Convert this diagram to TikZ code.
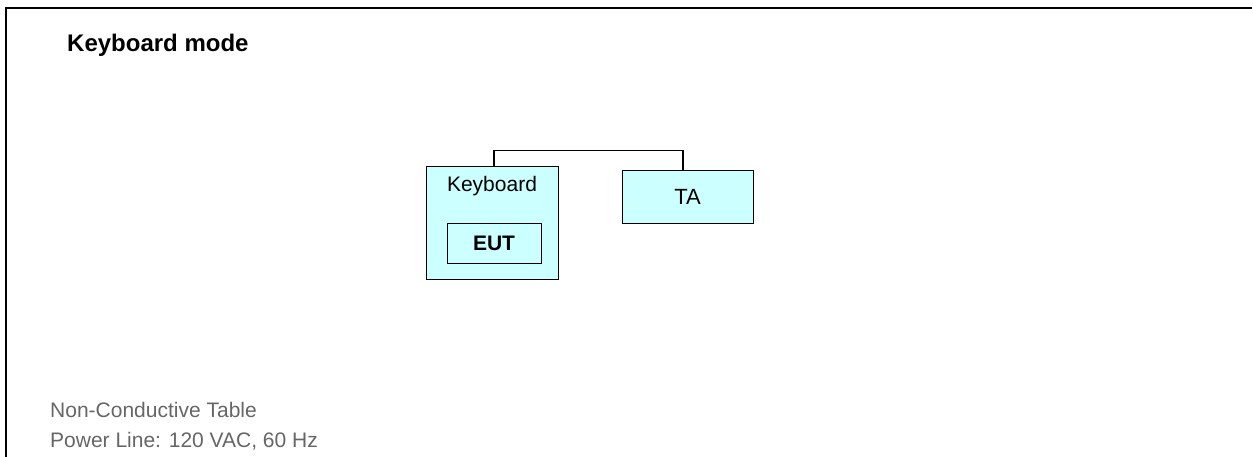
\documentclass[tikz,border=0pt]{standalone}
\usepackage{fontspec}
\setmainfont{Liberation Sans}
\definecolor{boxfill}{HTML}{CCFFFF}
\definecolor{notegray}{HTML}{666666}
\begin{document}
\begin{tikzpicture}[x=1pt,y=-1pt,
  unitbox/.style={draw=black,line width=1pt,fill=boxfill,inner sep=0pt},
  txt/.style={inner sep=0pt,font=\fontsize{21}{25}\selectfont},
  note/.style={txt,anchor=west,text=notegray}]
  \useasboundingbox (0,0) rectangle (1252,457);
  % frame: top and left edges
  \draw[line width=2pt] (1252,8) -- (6,8) -- (6,457);
  % heading
  \node[txt,anchor=west,font=\fontsize{24}{28}\selectfont\bfseries] (title) at (67,45) {Keyboard mode};
  % keyboard with the unit under test inside
  \node[unitbox,minimum width=132pt,minimum height=112pt] (kbd) at (492,223) {};
  \node[txt] (kbdlabel) at (492,186) {Keyboard};
  \node[unitbox,minimum width=94pt,minimum height=40pt,font=\fontsize{21}{25}\selectfont\bfseries] (eut) at (494,243) {EUT};
  % terminal adapter
  \node[unitbox,minimum width=131pt,minimum height=52pt,font=\fontsize{22}{26}\selectfont] (ta) at (687.5,197) {TA};
  % cable
  \draw[line width=1.3pt] ([xshift=2pt]kbd.north) -- ++(0,-16) -| ([xshift=-4.5pt]ta.north);
  % notes
  \node[note] (table) at (50,410) {Non-Conductive Table};
  \node[note] (power) at (50,441) {Power Line: 120 VAC, 60 Hz};
\end{tikzpicture}
\end{document}
